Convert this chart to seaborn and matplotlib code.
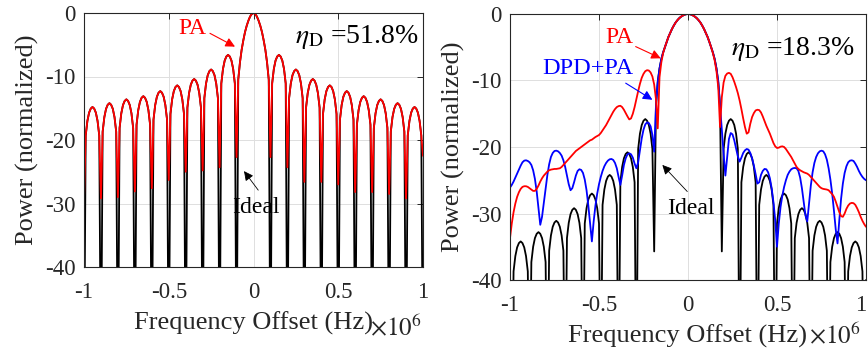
import numpy as np
import matplotlib
matplotlib.use('Agg')
import matplotlib.pyplot as plt
import seaborn as sns

# frequency offset grid (x 1e6 Hz), shared by both panels
freq = np.round(np.linspace(-1, 1, 201), 2)

# left panel (eta_D = 51.8%), one row per 0.1 MHz
ideal_left = [
    -60, -19.3, -17.0, -15.7, -15.05, -14.8, -15.05, -15.7, -17.0, -19.3,
    -60, -18.7, -16.4, -15.1, -14.45, -14.2, -14.45, -15.1, -16.4, -18.7,
    -60, -18.1, -15.8, -14.5, -13.85, -13.6, -13.85, -14.5, -15.8, -18.1,
    -60, -17.6, -15.3, -14.0, -13.35, -13.1, -13.35, -14.0, -15.3, -17.6,
    -60, -16.8, -14.5, -13.2, -12.55, -12.3, -12.55, -13.2, -14.5, -16.8,
    -60, -15.9, -13.6, -12.3, -11.65, -11.4, -11.65, -12.3, -13.6, -15.9,
    -60, -14.9, -12.6, -11.3, -10.65, -10.4, -10.65, -11.3, -12.6, -14.9,
    -60, -13.4, -11.1, -9.8, -9.15, -8.9, -9.15, -9.8, -11.1, -13.4,
    -60, -11.1, -8.8, -7.5, -6.85, -6.6, -6.85, -7.5, -8.8, -11.1,
    -60, -10.5, -7.8, -5.8, -4.3, -3.0, -2.0, -1.2, -0.55, -0.15,
    0.0, -0.15, -0.55, -1.2, -2.0, -3.0, -4.3, -5.8, -7.8, -10.5,
    -60, -11.1, -8.8, -7.5, -6.85, -6.6, -6.85, -7.5, -8.8, -11.1,
    -60, -13.4, -11.1, -9.8, -9.15, -8.9, -9.15, -9.8, -11.1, -13.4,
    -60, -14.9, -12.6, -11.3, -10.65, -10.4, -10.65, -11.3, -12.6, -14.9,
    -60, -15.9, -13.6, -12.3, -11.65, -11.4, -11.65, -12.3, -13.6, -15.9,
    -60, -16.8, -14.5, -13.2, -12.55, -12.3, -12.55, -13.2, -14.5, -16.8,
    -60, -17.6, -15.3, -14.0, -13.35, -13.1, -13.35, -14.0, -15.3, -17.6,
    -60, -18.1, -15.8, -14.5, -13.85, -13.6, -13.85, -14.5, -15.8, -18.1,
    -60, -18.7, -16.4, -15.1, -14.45, -14.2, -14.45, -15.1, -16.4, -18.7,
    -60, -19.3, -17.0, -15.7, -15.05, -14.8, -15.05, -15.7, -17.0, -19.3,
    -60,
]

pa_left = [
    -29.4, -19.3, -17.0, -15.7, -15.05, -14.8, -15.05, -15.7, -17.0, -19.3,
    -29.2, -18.7, -16.4, -15.1, -14.45, -14.2, -14.45, -15.1, -16.4, -18.7,
    -29.0, -18.1, -15.8, -14.5, -13.85, -13.6, -13.85, -14.5, -15.8, -18.1,
    -28.1, -17.6, -15.3, -14.0, -13.35, -13.1, -13.35, -14.0, -15.3, -17.6,
    -27.6, -16.8, -14.5, -13.2, -12.55, -12.3, -12.55, -13.2, -14.5, -16.8,
    -26.3, -15.9, -13.6, -12.3, -11.65, -11.4, -11.65, -12.3, -13.6, -15.9,
    -25.0, -14.9, -12.6, -11.3, -10.65, -10.4, -10.65, -11.3, -12.6, -14.9,
    -24.8, -13.4, -11.1, -9.8, -9.15, -8.9, -9.15, -9.8, -11.1, -13.4,
    -24.3, -11.1, -8.8, -7.5, -6.85, -6.6, -6.85, -7.5, -8.8, -11.1,
    -22.7, -10.5, -7.8, -5.8, -4.3, -3.0, -2.0, -1.2, -0.55, -0.15,
    0.0, -0.15, -0.55, -1.2, -2.0, -3.0, -4.3, -5.8, -7.8, -10.5,
    -22.7, -11.1, -8.8, -7.5, -6.85, -6.6, -6.85, -7.5, -8.8, -11.1,
    -24.3, -13.4, -11.1, -9.8, -9.15, -8.9, -9.15, -9.8, -11.1, -13.4,
    -26.6, -14.9, -12.6, -11.3, -10.65, -10.4, -10.65, -11.3, -12.6, -14.9,
    -26.6, -15.9, -13.6, -12.3, -11.65, -11.4, -11.65, -12.3, -13.6, -15.9,
    -27.0, -16.8, -14.5, -13.2, -12.55, -12.3, -12.55, -13.2, -14.5, -16.8,
    -28.2, -17.6, -15.3, -14.0, -13.35, -13.1, -13.35, -14.0, -15.3, -17.6,
    -28.2, -18.1, -15.8, -14.5, -13.85, -13.6, -13.85, -14.5, -15.8, -18.1,
    -28.5, -18.7, -16.4, -15.1, -14.45, -14.2, -14.45, -15.1, -16.4, -18.7,
    -29.2, -19.3, -17.0, -15.7, -15.05, -14.8, -15.05, -15.7, -17.0, -19.3,
    -22.5,
]

# right panel (eta_D = 18.3%)
ideal_right = [
    -40.0, -60, -38.7, -36.4, -35.1, -34.45, -34.2, -34.45, -35.1, -36.4,
    -38.7, -60, -37.3, -35.0, -33.7, -33.05, -32.8, -33.05, -33.7, -35.0,
    -37.3, -60, -35.6, -33.3, -32.0, -31.35, -31.1, -31.35, -32.0, -33.3,
    -35.6, -60, -33.7, -31.4, -30.1, -29.45, -29.2, -29.45, -30.1, -31.4,
    -33.7, -60, -31.5, -29.2, -27.9, -27.25, -27.0, -27.25, -27.9, -29.2,
    -31.5, -60, -28.7, -26.4, -25.1, -24.45, -24.2, -24.45, -25.1, -26.4,
    -28.7, -60, -25.3, -23.0, -21.7, -21.05, -20.8, -21.05, -21.7, -23.0,
    -25.3, -60, -20.3, -18.0, -16.7, -16.05, -15.8, -16.05, -16.7, -18.0,
    -20.3, -35.7, -13.8, -10.2, -8.2, -6.8, -5.8, -5.0, -4.2, -3.45,
    -2.85, -2.25, -1.75, -1.3, -0.95, -0.65, -0.42, -0.25, -0.1, -0.03,
    0.0, -0.03, -0.1, -0.25, -0.42, -0.65, -0.95, -1.3, -1.75, -2.25,
    -2.85, -3.45, -4.2, -5.0, -5.8, -6.8, -8.2, -10.2, -13.8, -35.7,
    -20.3, -18.0, -16.7, -16.05, -15.8, -16.05, -16.7, -18.0, -20.3, -60,
    -25.3, -23.0, -21.7, -21.05, -20.8, -21.05, -21.7, -23.0, -25.3, -60,
    -28.7, -26.4, -25.1, -24.45, -24.2, -24.45, -25.1, -26.4, -28.7, -60,
    -31.5, -29.2, -27.9, -27.25, -27.0, -27.25, -27.9, -29.2, -31.5, -60,
    -33.7, -31.4, -30.1, -29.45, -29.2, -29.45, -30.1, -31.4, -33.7, -60,
    -35.6, -33.3, -32.0, -31.35, -31.1, -31.35, -32.0, -33.3, -35.6, -60,
    -37.3, -35.0, -33.7, -33.05, -32.8, -33.05, -33.7, -35.0, -37.3, -60,
    -38.7, -36.4, -35.1, -34.45, -34.2, -34.45, -35.1, -36.4, -38.7, -60,
    -40.0,
]

pa_right = [
    -33.7, -31.5, -29.8, -28.5, -27.5, -26.8, -26.3, -26.0, -25.9, -25.9,
    -26.0, -26.2, -26.4, -26.6, -26.6, -26.3, -25.8, -25.2, -24.7, -24.3,
    -24.0, -23.7, -23.5, -23.4, -23.35, -23.3, -23.3, -23.25, -23.2, -23.0,
    -22.7, -22.4, -22.1, -21.8, -21.5, -21.2, -20.9, -20.6, -20.4, -20.2,
    -20.0, -19.8, -19.6, -19.4, -19.2, -19.0, -18.9, -18.7, -18.5, -18.35,
    -18.2, -17.9, -17.5, -17.1, -16.7, -16.2, -15.7, -15.2, -14.7, -14.3,
    -14.0, -13.85, -13.8, -14.0, -14.4, -14.9, -15.4, -15.85, -15.7, -15.0,
    -14.0, -12.8, -11.6, -10.5, -9.6, -9.0, -8.6, -8.45, -8.5, -8.8,
    -9.4, -10.6, -12.8, -17.2, -9.5, -7.3, -5.9, -5.0, -4.2, -3.45,
    -2.85, -2.25, -1.75, -1.3, -0.95, -0.65, -0.42, -0.25, -0.1, -0.03,
    0.0, -0.03, -0.1, -0.25, -0.42, -0.65, -0.95, -1.3, -1.75, -2.25,
    -2.85, -3.45, -4.2, -5.0, -5.9, -7.0, -8.6, -11.0, -17.0, -12.5,
    -10.3, -9.3, -8.95, -8.85, -9.0, -9.5, -10.2, -11.0, -11.9, -13.0,
    -14.3, -15.7, -17.0, -18.0, -17.8, -16.5, -15.5, -14.9, -14.5, -14.4,
    -14.45, -14.8, -15.4, -16.1, -16.8, -17.4, -18.0, -18.7, -19.4, -19.9,
    -20.15, -20.1, -19.95, -19.9, -20.0, -20.3, -20.7, -21.1, -21.5, -22.0,
    -22.5, -23.0, -23.3, -23.5, -23.65, -23.8, -23.9, -24.0, -24.2, -24.5,
    -24.8, -25.1, -25.4, -25.7, -26.0, -26.2, -26.3, -26.35, -26.4, -26.5,
    -26.8, -27.1, -27.5, -28.2, -29.0, -29.8, -30.4, -30.5, -30.0, -29.3,
    -28.8, -28.5, -28.4, -28.45, -28.7, -29.2, -29.8, -30.5, -31.1, -31.6,
    -32.0,
]

dpd_right = [
    -26.1, -25.7, -25.2, -24.6, -24.0, -23.4, -22.8, -22.3, -22.05, -22.0,
    -22.1, -22.3, -22.7, -23.5, -24.8, -26.7, -29.2, -31.7, -30.5, -28.4,
    -26.2, -24.2, -22.6, -21.5, -20.9, -20.6, -20.55, -20.65, -20.9, -21.3,
    -22.0, -23.0, -24.3, -25.6, -26.5, -26.2, -25.3, -24.3, -23.6, -23.35,
    -23.45, -23.9, -24.9, -26.5, -28.8, -31.5, -34.2, -31.2, -28.8, -27.0,
    -25.6, -24.5, -23.6, -22.9, -22.4, -22.05, -21.85, -21.8, -21.95, -22.4,
    -23.2, -24.5, -25.7, -24.3, -22.7, -21.7, -21.1, -20.95, -21.1, -21.6,
    -22.5, -23.2, -22.3, -20.5, -18.7, -17.4, -16.6, -16.3, -16.4, -16.9,
    -18.2, -20.7, -13.8, -10.2, -8.2, -6.8, -5.8, -5.0, -4.2, -3.45,
    -2.85, -2.25, -1.75, -1.3, -0.95, -0.65, -0.42, -0.25, -0.1, -0.03,
    0.0, -0.03, -0.1, -0.25, -0.42, -0.65, -0.95, -1.3, -1.75, -2.25,
    -2.85, -3.45, -4.2, -5.0, -5.8, -6.8, -8.2, -10.2, -13.8, -17.5,
    -21.0, -24.3, -21.5, -18.8, -17.9, -18.1, -19.0, -20.2, -21.4, -22.2,
    -21.6, -20.9, -20.5, -20.3, -20.4, -20.9, -21.7, -22.8, -24.1, -25.5,
    -25.3, -24.2, -23.6, -23.3, -23.35, -23.8, -24.7, -26.2, -28.3, -31.0,
    -35.0, -31.5, -29.0, -27.3, -26.0, -25.0, -24.2, -23.7, -23.35, -23.2,
    -23.15, -23.2, -23.6, -24.6, -26.2, -28.2, -30.3, -31.2, -28.5, -25.8,
    -23.8, -22.4, -21.5, -20.95, -20.65, -20.55, -20.65, -21.1, -21.9, -23.2,
    -24.9, -27.0, -29.6, -32.4, -34.5, -31.0, -27.8, -25.5, -23.9, -22.9,
    -22.3, -22.05, -22.0, -22.1, -22.5, -23.0, -23.6, -24.1, -24.5, -24.8,
    -25.0,
]

xticks = [-1, -0.5, 0, 0.5, 1]
xtick_labels = ['-1', '-0.5', '0', '0.5', '1']
yticks = [-40, -30, -20, -10, 0]
ytick_labels = ['-40', '-30', '-20', '-10', '0']

sns.set_style('white')
plt.rcParams['font.family'] = ['Liberation Serif', 'DejaVu Serif']
plt.rcParams['mathtext.fontset'] = 'stix'

fig = plt.figure(figsize=(8.68, 3.52), dpi=100)
ax1 = fig.add_axes([84 / 868, 1 - 267 / 352, 339 / 868, 254 / 352])
ax2 = fig.add_axes([510 / 868, 1 - 280 / 352, 356 / 868, 266 / 352])

lw = 1.3
sns.lineplot(x=freq, y=ideal_left, ax=ax1, color='black', linewidth=lw, estimator=None, sort=False)
sns.lineplot(x=freq, y=pa_left, ax=ax1, color='red', linewidth=lw, estimator=None, sort=False)

sns.lineplot(x=freq, y=ideal_right, ax=ax2, color='black', linewidth=lw, estimator=None, sort=False)
sns.lineplot(x=freq, y=dpd_right, ax=ax2, color='blue', linewidth=lw, estimator=None, sort=False)
sns.lineplot(x=freq, y=pa_right, ax=ax2, color='red', linewidth=lw, estimator=None, sort=False)

for ax in (ax1, ax2):
    ax.set_xlim(-1, 1)
    ax.set_ylim(-40, 0)
    ax.set_xticks(xticks)
    ax.set_xticklabels(xtick_labels)
    ax.set_yticks(yticks)
    ax.set_yticklabels(ytick_labels)
    ax.grid(True, color='#dedede', linewidth=0.7)
    ax.set_axisbelow(True)
    ax.tick_params(direction='in', length=4, width=0.7, top=True, right=True,
                   labelsize=16.5, colors='#262626')
    ax.tick_params(axis='x', pad=11)
    ax.tick_params(axis='y', pad=6)
    for s in ax.spines.values():
        s.set_color('#262626')
        s.set_linewidth(0.8)
    ax.set_xlabel('Frequency Offset (Hz)', fontsize=19, color='#262626', labelpad=6)
    ax.set_ylabel('Power (normalized)', fontsize=19, color='#262626', labelpad=4)

# last tick label of the right panel sits against the figure edge
ax2.get_xticklabels()[-1].set_horizontalalignment('right')

# x10^6 multipliers, just after the x labels
ax1.text(0.995, -0.27, r'$\times10^{6}$', transform=ax1.transAxes, fontsize=18,
         color='#262626', ha='right', va='baseline')
ax2.text(0.985, -0.238, r'$\times10^{6}$', transform=ax2.transAxes, fontsize=18,
         color='#262626', ha='right', va='baseline')

# annotations, left panel
ax1.text(-0.445, -2.4, 'PA', color='red', fontsize=17, ha='left', va='center')
ax1.annotate('', xy=(-0.109, -5.3), xytext=(-0.257, -3.2),
             arrowprops=dict(arrowstyle='-|>', color='red', lw=0.8, mutation_scale=14,
                             shrinkA=0, shrinkB=0))
ax1.text(0.245, -4.7, r'$\eta_{\mathrm{D}}$ =51.8%', color='black', fontsize=20,
         ha='left', va='baseline')
ax1.text(-0.129, -30.7, 'Ideal', color='black', fontsize=17, ha='left', va='center')
ax1.annotate('', xy=(-0.056, -24.9), xytext=(0.028, -27.9),
             arrowprops=dict(arrowstyle='-|>', color='black', lw=0.6, mutation_scale=14,
                             shrinkA=0, shrinkB=0))

# annotations, right panel
ax2.text(-0.466, -3.46, 'PA', color='red', fontsize=17, ha='left', va='center')
ax2.annotate('', xy=(-0.153, -6.66), xytext=(-0.294, -4.9),
             arrowprops=dict(arrowstyle='-|>', color='red', lw=0.8, mutation_scale=14,
                             shrinkA=0, shrinkB=0))
ax2.text(-0.82, -8.2, 'DPD+PA', color='blue', fontsize=17.5, ha='left', va='center')
ax2.annotate('', xy=(-0.2, -12.9), xytext=(-0.35, -10.4),
             arrowprops=dict(arrowstyle='-|>', color='blue', lw=0.8, mutation_scale=14,
                             shrinkA=0, shrinkB=0))
ax2.text(0.24, -6.2, r'$\eta_{\mathrm{D}}$ =18.3%', color='black', fontsize=20,
         ha='left', va='baseline')
ax2.text(-0.118, -29.2, 'Ideal', color='black', fontsize=17, ha='left', va='center')
ax2.annotate('', xy=(-0.144, -22.7), xytext=(-0.004, -26.7),
             arrowprops=dict(arrowstyle='-|>', color='black', lw=0.6, mutation_scale=14,
                             shrinkA=0, shrinkB=0))

fig.savefig('out.png', dpi=100)
